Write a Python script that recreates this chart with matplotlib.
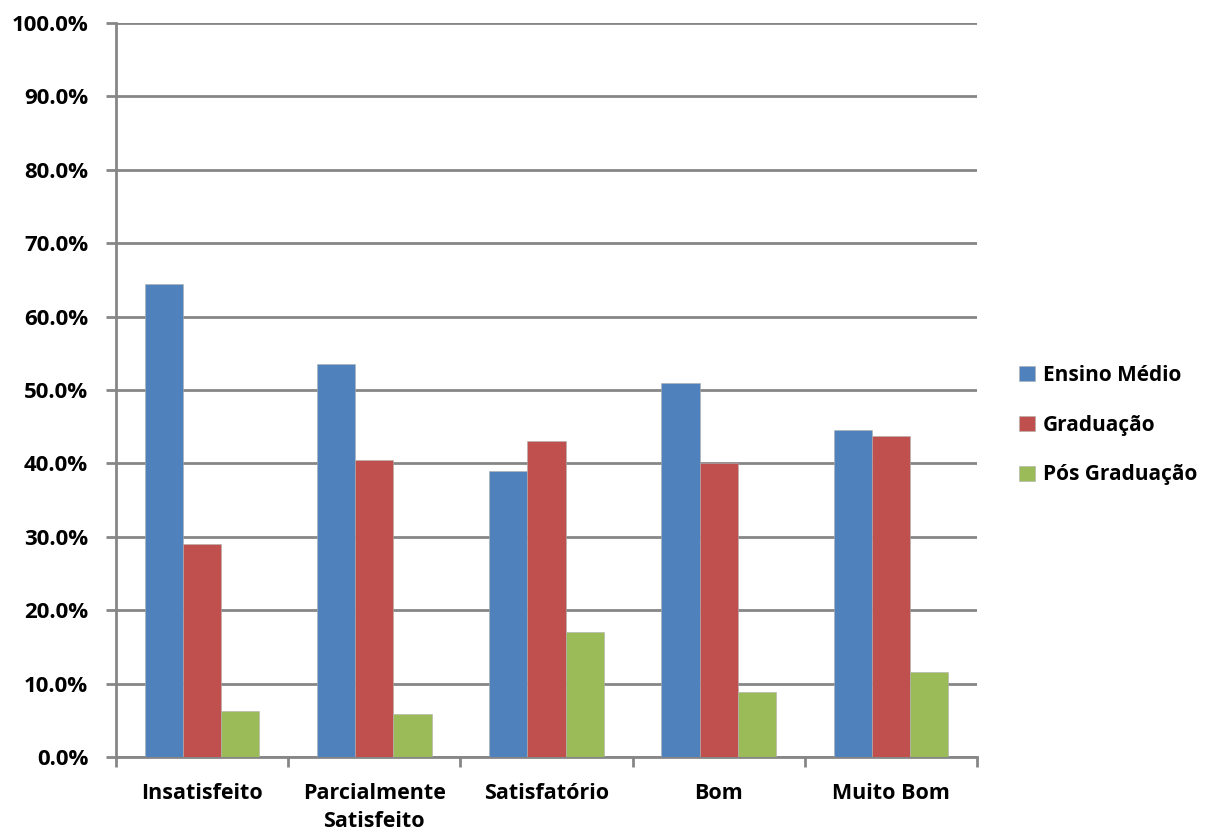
import matplotlib
matplotlib.use("Agg")
import matplotlib.pyplot as plt
import numpy as np
from matplotlib.ticker import FuncFormatter, MultipleLocator

# ── Data ──────────────────────────────────────────────────────────────────────
categories = ["Insatisfeito", "Parcialmente\nSatisfeito", "Satisfatório", "Bom", "Muito Bom"]
series_names = ["Ensino Médio", "Graduação", "Pós Graduação"]
ensino_medio = [64.5, 53.5, 39.0, 51.0, 44.6]
graduacao = [29.0, 40.4, 43.0, 40.0, 43.8]
pos_graduacao = [6.2, 5.8, 17.0, 8.8, 11.6]
colors = ["#4F81BD", "#C0504D", "#9BBB59"]

plt.rcParams["font.family"] = ["Open Sans", "DejaVu Sans"]
plt.rcParams["font.weight"] = "bold"

fig = plt.figure(figsize=(12.09, 8.35), dpi=100)
ax = fig.add_axes([116 / 1209, 1 - 757 / 835, (977 - 116) / 1209, (757 - 23) / 835])

x = np.arange(len(categories))
width = 0.222
for i, (vals, name, c) in enumerate(zip([ensino_medio, graduacao, pos_graduacao], series_names, colors)):
    ax.bar(x + (i - 1) * width, vals, width, color=c, label=name, zorder=3,
           edgecolor="#b0b0b0", linewidth=0.4)

ax.set_xlim(-0.5, len(categories) - 0.5)
ax.set_ylim(0, 100)
ax.yaxis.set_major_locator(MultipleLocator(10))
ax.yaxis.set_major_formatter(FuncFormatter(lambda v, _: f"{v:.1f}%"))
ax.grid(axis="y", color="#868686", linewidth=2, zorder=0)

for side in ["top", "right"]:
    ax.spines[side].set_visible(False)
for side in ["left", "bottom"]:
    ax.spines[side].set_color("#868686")
    ax.spines[side].set_linewidth(2)

# category labels between boundary ticks
ax.set_xticks(np.arange(len(categories) + 1) - 0.5)
ax.set_xticklabels([])
ax.set_xticks(x, minor=True)
ax.set_xticklabels(categories, minor=True, fontsize=15.5, fontweight="bold", linespacing=1.4)
ax.tick_params(axis="x", which="minor", length=0, pad=19)
ax.tick_params(axis="x", which="major", length=7, width=2, color="#868686")
ax.tick_params(axis="y", length=7, width=2, color="#868686", labelsize=16, pad=13)
for lbl in ax.get_yticklabels():
    lbl.set_fontweight("bold")

ax.legend(loc="center left", bbox_to_anchor=(1.027, 0.452), frameon=False,
          prop={"size": 15, "weight": "bold"}, handlelength=0.75, handleheight=0.75,
          handletextpad=0.4, labelspacing=1.38)

fig.savefig("out.png", dpi=100)
